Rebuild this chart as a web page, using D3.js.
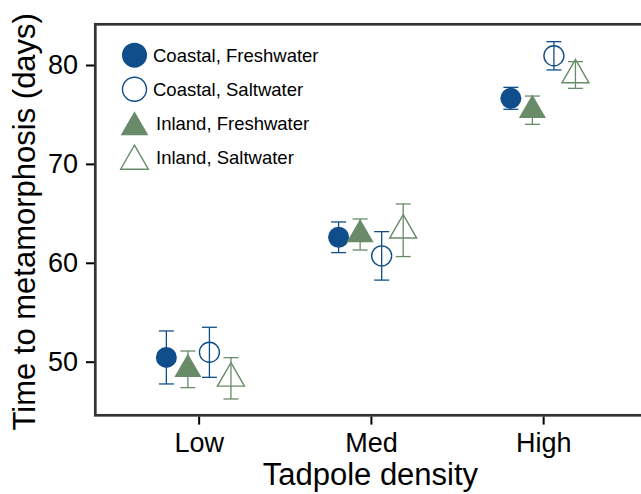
<!DOCTYPE html>
<html>
<head>
<meta charset="utf-8">
<script src="https://cdn.jsdelivr.net/npm/d3@7"></script>
<style>
  html, body { margin: 0; padding: 0; background: #fff; }
  svg { display: block; font-family: "Liberation Sans", Arial, Helvetica, sans-serif; }
</style>
</head>
<body>
<svg id="chart" width="641" height="494"></svg>
<script>
// ---- Data ----
const categories = ["Low", "Med", "High"];
const seriesNames = ["Coastal, Freshwater", "Inland, Freshwater", "Coastal, Saltwater", "Inland, Saltwater"]; // dodge order
const legendOrder = ["Coastal, Freshwater", "Coastal, Saltwater", "Inland, Freshwater", "Inland, Saltwater"];
const coastalFreshMean = [50.43, 62.58, 76.63];
const coastalFreshSE   = [2.68, 1.55, 1.11];
const inlandFreshMean  = [49.23, 62.86, 75.43];
const inlandFreshSE    = [1.85, 1.57, 1.43];
const coastalSaltMean  = [50.95, 60.70, 80.93];
const coastalSaltSE    = [2.53, 2.45, 1.43];
const inlandSaltMean   = [48.32, 63.29, 78.99];
const inlandSaltSE     = [2.09, 2.66, 1.35];
const yTicks = [50, 60, 70, 80];
const xTitle = "Tadpole density";
const yTitle = "Time to metamorphosis (days)";

const seriesData = {
  "Coastal, Freshwater": { mean: coastalFreshMean, se: coastalFreshSE, shape: "circle", filled: true, color: "#104E8B" },
  "Coastal, Saltwater":  { mean: coastalSaltMean,  se: coastalSaltSE,  shape: "circle", filled: false, color: "#104E8B" },
  "Inland, Freshwater":  { mean: inlandFreshMean,  se: inlandFreshSE,  shape: "triangle", filled: true, color: "#698B69" },
  "Inland, Saltwater":   { mean: inlandSaltMean,   se: inlandSaltSE,   shape: "triangle", filled: false, color: "#698B69" }
};

// ---- Layout ----
const svg = d3.select("#chart");
const panel = { x0: 95.3, x1: 646.5, y0: 24.3, y1: 415.3 };

const x = d3.scalePoint().domain(categories).range([panel.x0, panel.x1]).padding(0.6);
const dodgeW = x.step() * 0.5;
const dodge = d3.scaleBand().domain(seriesNames).range([-dodgeW / 2, dodgeW / 2]);
const y = d3.scaleLinear().domain([44.58, 84.115]).range([panel.y1, panel.y0]);

function symPath(shape, r) {
  if (shape === "circle") return d3.symbol().type(d3.symbolCircle).size(Math.PI * r * r)();
  return d3.symbol().type(d3.symbolTriangle).size(3 * Math.sqrt(3) * r * r / 4)();
}

// rows
const rows = [];
seriesNames.forEach(name => {
  const s = seriesData[name];
  categories.forEach((c, i) => {
    rows.push({ name, cat: c, mean: s.mean[i], se: s.se[i], s });
  });
});

const cx = d => x(d.cat) + dodge(d.name) + dodge.bandwidth() / 2;

// error bars
const eb = svg.append("g");
const capW = 15;
eb.selectAll("g").data(rows).join("g").each(function (d) {
  const g = d3.select(this);
  const xc = cx(d);
  const col = d.s.color;
  g.append("line").attr("x1", xc).attr("x2", xc).attr("y1", y(d.mean + d.se)).attr("y2", y(d.mean - d.se))
    .attr("stroke", col).attr("stroke-width", 1.3);
  [d.mean + d.se, d.mean - d.se].forEach(v => {
    g.append("line").attr("x1", xc - capW / 2).attr("x2", xc + capW / 2).attr("y1", y(v)).attr("y2", y(v))
      .attr("stroke", col).attr("stroke-width", 1.3);
  });
});

// points
svg.append("g").selectAll("path").data(rows).join("path")
  .attr("transform", d => `translate(${cx(d)},${y(d.mean)})`)
  .attr("d", d => symPath(d.s.shape, d.s.shape === "circle" ? (d.s.filled ? 10.5 : 10) : 15.6))
  .attr("fill", d => d.s.filled ? d.s.color : "none")
  .attr("stroke", d => d.s.filled ? "none" : d.s.color)
  .attr("stroke-width", 1.4);

// panel border
svg.append("rect").attr("x", panel.x0).attr("y", panel.y0)
  .attr("width", panel.x1 - panel.x0).attr("height", panel.y1 - panel.y0)
  .attr("fill", "none").attr("stroke", "#333").attr("stroke-width", 2.7);

// y axis
const yAxis = d3.axisLeft(y).tickValues(yTicks).tickSize(8).tickPadding(8);
const yg = svg.append("g").attr("transform", `translate(${panel.x0 - 1.3},0)`).call(yAxis);
yg.select(".domain").remove();
yg.selectAll(".tick line").attr("stroke", "#000").attr("stroke-width", 2);
yg.selectAll(".tick text").attr("font-size", 27).attr("fill", "#000")
  .attr("font-family", "Liberation Sans, Arial, sans-serif");

// x axis
const xAxis = d3.axisBottom(x).tickSize(8).tickPadding(8);
const xg = svg.append("g").attr("transform", `translate(0,${panel.y1 + 1.3})`).call(xAxis);
xg.select(".domain").remove();
xg.selectAll(".tick line").attr("stroke", "#000").attr("stroke-width", 2);
xg.selectAll(".tick text").attr("font-size", 27).attr("fill", "#000").attr("dy", null)
  .attr("y", 35.5).attr("font-family", "Liberation Sans, Arial, sans-serif");

// axis titles
svg.append("text").attr("x", (panel.x0 + panel.x1) / 2 - 0.5).attr("y", 485)
  .attr("text-anchor", "middle").attr("font-size", 31).attr("fill", "#000").text(xTitle);
svg.append("text").attr("transform", `translate(35,${(panel.y0 + panel.y1) / 2 + 2}) rotate(-90)`)
  .attr("text-anchor", "middle").attr("font-size", 31).attr("fill", "#000").text(yTitle);

// legend
const lg = svg.append("g");
legendOrder.forEach((name, i) => {
  const s = seriesData[name];
  const base = 61.7 + i * 34;
  const cy = base - 6.5 + (s.shape === "triangle" ? 4 : 0);
  lg.append("path").attr("transform", `translate(134.5,${cy})`)
    .attr("d", symPath(s.shape, s.shape === "circle" ? (s.filled ? 12.5 : 12) : 16))
    .attr("fill", s.filled ? s.color : "none")
    .attr("stroke", s.filled ? "none" : s.color)
    .attr("stroke-width", 1.4);
  lg.append("text").attr("x", s.shape === "circle" ? 153 : 156).attr("y", base)
    .attr("font-size", 18.5).attr("fill", "#000").text(name);
});
</script>
</body>
</html>
